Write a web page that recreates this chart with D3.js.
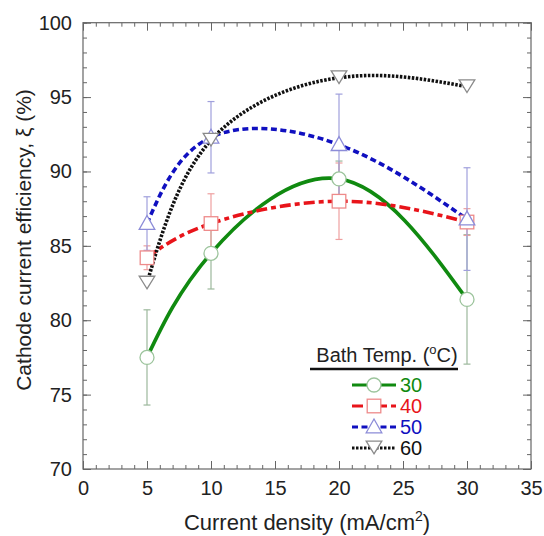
<!DOCTYPE html>
<html><head><meta charset="utf-8">
<script src="https://cdn.jsdelivr.net/npm/d3@7/dist/d3.min.js"></script>
<style>
html,body{margin:0;padding:0;background:#fff;}
svg{display:block;font-family:"Liberation Sans",Arial,Helvetica,sans-serif;}
</style></head><body>
<svg id="chart" width="544" height="536"></svg>
<script>
// ---- data ----
const currentDensity = [5, 10, 20, 30];
const temps = ["30", "40", "50", "60"];
const eff30 = [77.5, 84.5, 89.5, 81.4];
const err30 = [3.2, 2.4, 1.2, 4.35];
const eff40 = [84.2, 86.5, 88.0, 86.6];
const err40 = [0.8, 2.0, 2.57, 0.9];
const eff50 = [86.5, 92.3, 91.8, 86.8];
const err50 = [1.8, 2.4, 3.4, 3.45];
const eff60 = [82.5, 92.1, 96.3, 95.7];
const err60 = [0, 0, 0, 0];
const xTicks = [0, 5, 10, 15, 20, 25, 30, 35];
const yTicks = [70, 75, 80, 85, 90, 95, 100];

const seriesStyle = [
  {line:"#108a10", mark:"#9cc49c", err:"#9cb89c", dash:null, sym:"circle", label:"#108a10"},
  {line:"#e8141a", mark:"#ee8a8a", err:"#eea0a0", dash:"11,4,5,4", sym:"square", label:"#e8141a"},
  {line:"#1010c0", mark:"#8c8cd8", err:"#a0a0dc", dash:"6,3.5", sym:"triangle", label:"#1010c0"},
  {line:"#111111", mark:"#8a8a8a", err:"#999", dash:"2.5,1.5", sym:"down", label:"#111111"}
];
const effs = [eff30, eff40, eff50, eff60];
const errs = [err30, err40, err50, err60];

const svg = d3.select("#chart");
const L = 83, R = 531, T = 22.7, B = 469;
const x = d3.scaleLinear().domain([0, 35]).range([L, R]);
const y = d3.scaleLinear().domain([70, 100]).range([B, T]);

const axisColor = "#666";
function styleAxis(g){
  g.select(".domain").remove();
  g.selectAll("line").attr("stroke", axisColor).attr("stroke-width", 1);
  g.selectAll("text").attr("fill", "#222").style("font-size", "20px");
}
const minorX = d3.range(0, 36, 1), minorY = d3.range(70, 101, 1);
// minor ticks
svg.append("g").attr("transform",`translate(0,${B})`).call(d3.axisBottom(x).tickValues(minorX).tickSize(-4).tickFormat("")).call(styleAxis);
svg.append("g").attr("transform",`translate(0,${T})`).call(d3.axisTop(x).tickValues(minorX).tickSize(-4).tickFormat("")).call(styleAxis);
svg.append("g").attr("transform",`translate(${L},0)`).call(d3.axisLeft(y).tickValues(minorY).tickSize(-4).tickFormat("")).call(styleAxis);
svg.append("g").attr("transform",`translate(${R},0)`).call(d3.axisRight(y).tickValues(minorY).tickSize(-4).tickFormat("")).call(styleAxis);
// major ticks
svg.append("g").attr("transform",`translate(0,${B})`).call(d3.axisBottom(x).tickValues(xTicks).tickSize(-8).tickPadding(12).tickFormat(d3.format("d"))).call(styleAxis);
svg.append("g").attr("transform",`translate(0,${T})`).call(d3.axisTop(x).tickValues(xTicks).tickSize(-8).tickFormat("")).call(styleAxis);
svg.append("g").attr("transform",`translate(${L},0)`).call(d3.axisLeft(y).tickValues(yTicks).tickSize(-8).tickPadding(11).tickFormat(d3.format("d"))).call(styleAxis);
svg.append("g").attr("transform",`translate(${R},0)`).call(d3.axisRight(y).tickValues(yTicks).tickSize(-8).tickFormat("")).call(styleAxis);
// frame
svg.append("rect").attr("x",L).attr("y",T).attr("width",R-L).attr("height",B-T)
  .attr("fill","none").attr("stroke",axisColor).attr("stroke-width",1.2);

// error bars
effs.forEach((vals, si) => {
  const st = seriesStyle[si];
  const g = svg.append("g");
  vals.forEach((v, i) => {
    const e = errs[si][i];
    if (!e) return;
    const cx = x(currentDensity[i]);
    g.append("line").attr("x1",cx).attr("x2",cx).attr("y1",y(v+e)).attr("y2",y(v-e)).attr("stroke",st.err).attr("stroke-width",1.2);
    [v+e, v-e].forEach(vv => g.append("line").attr("x1",cx-3.5).attr("x2",cx+3.5).attr("y1",y(vv)).attr("y2",y(vv)).attr("stroke",st.err).attr("stroke-width",1.2));
  });
});

// curves
const line = d3.line().x(d => x(d[0])).y(d => y(d[1])).curve(d3.curveNatural);
effs.forEach((vals, si) => {
  const st = seriesStyle[si];
  svg.append("path").datum(currentDensity.map((c, i) => [c, vals[i]]))
    .attr("d", line).attr("fill","none").attr("stroke", st.line).attr("stroke-width", 3.6)
    .attr("stroke-dasharray", st.dash);
});

// markers
function marker(g, sym, cx, cy, stroke){
  let p;
  if (sym === "circle") p = g.append("circle").attr("cx",cx).attr("cy",cy).attr("r",7);
  else if (sym === "square") p = g.append("rect").attr("x",cx-6.8).attr("y",cy-6.8).attr("width",13.6).attr("height",13.6);
  else if (sym === "triangle") p = g.append("path").attr("d",`M${cx},${cy-8}L${cx+7.8},${cy+5.8}L${cx-7.8},${cy+5.8}Z`);
  else p = g.append("path").attr("d",`M${cx},${cy+5.8}L${cx+7.8},${cy-6.8}L${cx-7.8},${cy-6.8}Z`);
  p.attr("fill","#fff").attr("stroke",stroke).attr("stroke-width",1.3);
}
effs.forEach((vals, si) => {
  const st = seriesStyle[si];
  const g = svg.append("g");
  vals.forEach((v, i) => marker(g, st.sym, x(currentDensity[i]), y(v), st.mark));
});

// legend
const lg = svg.append("g");
const ttl = lg.append("text").attr("x", 387).attr("y", 362).attr("text-anchor","middle").style("font-size","20px").attr("fill","#222");
ttl.append("tspan").text("Bath Temp. (");
ttl.append("tspan").text("o").attr("dy",-8).style("font-size","13px");
ttl.append("tspan").text("C)").attr("dy",8);
lg.append("line").attr("x1",310).attr("x2",458).attr("y1",369).attr("y2",369).attr("stroke","#111").attr("stroke-width",2.5);
temps.forEach((t, i) => {
  const st = seriesStyle[i];
  const yy = 385 + i * 21;
  lg.append("line").attr("x1",352).attr("x2",396).attr("y1",yy).attr("y2",yy)
    .attr("stroke",st.line).attr("stroke-width",3).attr("stroke-dasharray",st.dash);
  marker(lg, st.sym, 374, yy, st.mark);
  lg.append("text").attr("x",400).attr("y",yy+7).text(t).style("font-size","20px").attr("fill",st.label);
});

// axis titles
const xt = svg.append("text").attr("x", (L+R)/2).attr("y", 530).attr("text-anchor","middle").style("font-size","22px").attr("fill","#222");
xt.append("tspan").text("Current density (mA/cm");
xt.append("tspan").text("2").attr("dy",-9).style("font-size","14px");
xt.append("tspan").text(")").attr("dy",9);
svg.append("text").attr("transform",`translate(31,240) rotate(-90)`).attr("text-anchor","middle")
  .style("font-size","21px").attr("fill","#222").text("Cathode current efficiency, ξ (%)");
</script>
</body></html>
